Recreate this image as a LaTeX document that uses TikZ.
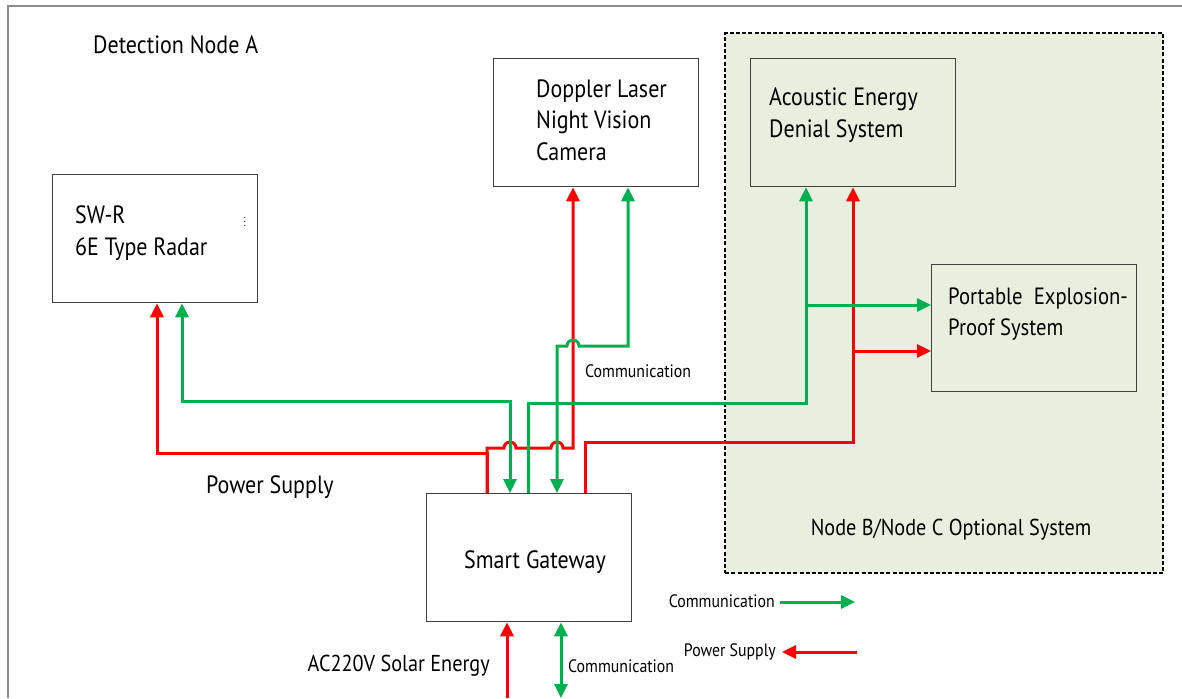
\documentclass[tikz,border=0pt]{standalone}
\usepackage{fontspec}
\setmainfont{PT Sans}[FakeStretch=0.88]
\usetikzlibrary{arrows.meta,calc}
\definecolor{cred}{HTML}{FF0000}
\definecolor{cgreen}{HTML}{00B050}
\definecolor{boxgray}{HTML}{404040}
\definecolor{regfill}{HTML}{E9EFDE}
\definecolor{framegray}{HTML}{8C8C8C}
\begin{document}
\begin{tikzpicture}[x=1pt,y=-1pt,
  box/.style={draw=boxgray,line width=1.3pt,minimum width=205pt,minimum height=128pt,anchor=north west,inner sep=0pt,fill=white},
  obox/.style={box,fill=regfill},
  lbl/.style={anchor=west,inner sep=0pt,font=\fontsize{25}{31.5}\selectfont,align=left},
  lblb/.style={inner sep=0pt,font=\fontsize{23}{28}\selectfont},
  small/.style={inner sep=0pt,font=\fontsize{18}{20}\selectfont},
  comm/.style={draw=cgreen,line width=3pt},
  pow/.style={draw=cred,line width=3pt},
  tip/.style={-{Triangle[length=14pt,width=13pt]}},
  tips/.style={{Triangle[length=14pt,width=13pt]}-{Triangle[length=14pt,width=13pt]}}]
\useasboundingbox (0,0) rectangle (1182,698);
\fill[white] (0,0) rectangle (1182,698);
% outer frame
\coordinate (fa) at (8,698);
\coordinate (fb) at (8,6);
\coordinate (fc) at (1182,6);
\draw[framegray,line width=2pt] (fa) -- (fb) -- (fc);
\node[lbl] (title) at (93,45) {Detection Node A};
% optional region
\node[draw=black,line width=2.2pt,dash pattern=on 4pt off 2.2pt,fill=regfill,minimum width=438pt,minimum height=540pt,anchor=north west,inner sep=0pt] (region) at (724,32) {};
\node[lblb,anchor=center] (regtxt) at (951,530) {Node B/Node C Optional System};
% boxes
\node[box] (rad) at (52,174) {};
\node[box] (dop) at (493,58) {};
\node[obox] (aco) at (750,58) {};
\node[obox,minimum height=127pt] (port) at (931,264) {};
\node[box] (gw) at (426,493) {};
% box texts
\node[lbl] (radtxt) at (75,233) {SW-R\\6E Type Radar};
\node[inner sep=0pt,font=\fontsize{11}{11}\selectfont] (dots) at (245,219) {$\vdots$};
\node[lbl] (doptxt) at (536,120) {Doppler Laser\\Night Vision\\Camera};
\node[lbl] (acotxt) at (769,115) {Acoustic Energy\\Denial System};
\node[lbl,font=\fontsize{23.5}{31.5}\selectfont] (porttxt) at (948,314) {Portable\ \ Explosion-\\Proof System};
\node[lbl,anchor=center] (gwtxt) at (535,562) {Smart Gateway};
% labels
\node[lbl] (pslbl) at (206,487) {Power Supply};
\node[small,anchor=west] (cmlbl) at (585,371) {Communication};
\node[lblb,anchor=east] (aclbl) at (490,666) {AC220V Solar Energy};
\node[small,anchor=west] (cmlbl2) at (568,666) {Communication};
% power lines
\draw[pow,tip] ($(gw.north west)+(61,0)$) -- ++(0,-40) -| ($(rad.south west)+(105,0)$);
\draw[pow,tip] ($(gw.north west)+(61,0)$) |- (504,448) arc[start angle=180,end angle=0,radius=6pt] -- (551,448) arc[start angle=180,end angle=0,radius=6pt] -| ($(dop.south west)+(80,0)$);
\draw[pow,tip] ($(gw.north west)+(159,0)$) -- ++(0,-51) -| ($(aco.south west)+(103,0)$);
\coordinate (rb) at (853,351);
\draw[pow,tip] (rb) -- (rb -| port.west);
% communication lines
\draw[comm,tips] ($(gw.north west)+(84,0)$) |- (182,401) -- ($(rad.south west)+(130,0)$);
\draw[comm,tips] ($(gw.north west)+(131,0)$) |- (567,346) arc[start angle=180,end angle=0,radius=6pt] -| ($(dop.south west)+(135,0)$);
\draw[comm,tip] ($(gw.north west)+(102,0)$) -- ++(0,-90) -| ($(aco.south west)+(56,0)$);
\coordinate (gb) at (806,305);
\draw[comm,tip] (gb) -- (gb -| port.west);
% bottom
\coordinate (acin) at (507,698);
\draw[pow,tip] (acin) -- (acin |- gw.south);
\coordinate (cmout) at (561,698);
\draw[comm,tips] (cmout |- gw.south) -- (cmout);
% legend
\node[small,anchor=east] (lg1) at (775,601) {Communication};
\coordinate (lg1a) at (780,602);
\coordinate (lg1b) at (855,602);
\draw[comm,tip] (lg1a) -- (lg1b);
\node[small,anchor=east] (lg2) at (776,652) {Power Supply};
\coordinate (lg2a) at (857,652);
\coordinate (lg2b) at (782,652);
\draw[pow,tip] (lg2a) -- (lg2b);
\end{tikzpicture}
\end{document}
